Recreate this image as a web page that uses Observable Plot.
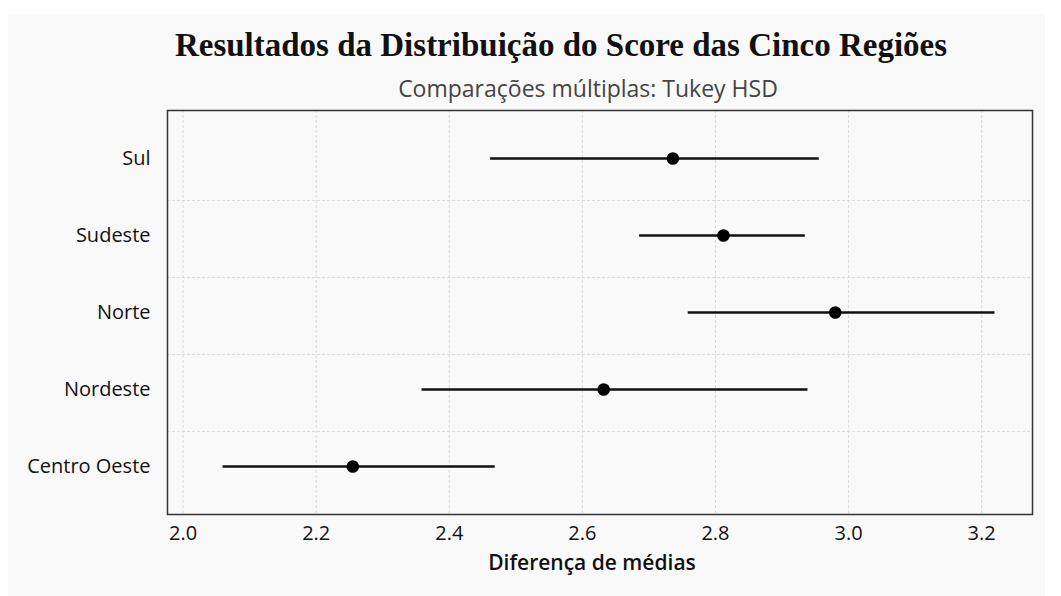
<!DOCTYPE html>
<html>
<head>
<meta charset="utf-8">
<script src="https://cdn.jsdelivr.net/npm/d3@7"></script>
<script src="https://cdn.jsdelivr.net/npm/@observablehq/plot@0.6"></script>
<style>
  html, body { margin: 0; padding: 0; background: #ffffff; }
  #wrap { position: relative; width: 1061px; height: 596px; overflow: hidden; }
  #panel { position: absolute; left: 8px; top: 14px; width: 1037px; height: 582px; background: #f9f9f9; }
  #title { position: absolute; left: 0; width: 1122px; top: 25px; text-align: center; line-height: 40px;
           font-family: "Liberation Serif", "DejaVu Serif", serif; font-weight: bold; font-size: 33px; color: #111; white-space: nowrap; }
  #subtitle { position: absolute; left: 0; width: 1176px; top: 73px; text-align: center; line-height: 30px;
              font-family: "Open Sans", "Noto Sans", sans-serif; font-size: 23px; color: #444; white-space: nowrap; }
  #chart { position: absolute; left: 0; top: 0; }
</style>
</head>
<body>
<div id="wrap">
  <div id="panel"></div>
  <div id="title">Resultados da Distribuição do Score das Cinco Regiões</div>
  <div id="subtitle">Comparações múltiplas: Tukey HSD</div>
  <div id="chart"></div>
</div>
<script>
// Data
const regions = ["Sul", "Sudeste", "Norte", "Nordeste", "Centro Oeste"];
const diffs   = [2.736, 2.812, 2.980, 2.632, 2.255];
const lowers  = [2.462, 2.686, 2.759, 2.359, 2.060];
const uppers  = [2.956, 2.935, 3.220, 2.939, 2.469];
const xTicks  = [2.0, 2.2, 2.4, 2.6, 2.8, 3.0, 3.2];

const data = regions.map((r, i) => ({region: r, diff: diffs[i], lwr: lowers[i], upr: uppers[i]}));

const W = 1061, H = 596;
const mTop = 110, mBottom = 82, mLeft = 167, mRight = 29;
const yPad = 0.59;
const step = (H - mTop - mBottom) / (regions.length - 1 + 2 * yPad);

const fontSans = "'Open Sans', 'Noto Sans', sans-serif";

const chart = Plot.plot({
  width: W,
  height: H,
  marginTop: mTop,
  marginBottom: mBottom,
  marginLeft: mLeft,
  marginRight: mRight,
  style: {background: "transparent", fontFamily: fontSans, fontSize: "20px", color: "#111"},
  x: {domain: [1.9765, 3.2764], ticks: xTicks, tickFormat: d3.format(".1f")},
  y: {type: "point", domain: regions, padding: yPad},
  marks: [
    Plot.gridX(xTicks, {stroke: "#d2d2d2", strokeOpacity: 1, strokeWidth: 0.8, strokeDasharray: "3,2"}),
    Plot.ruleY(regions.slice(0, -1), {y: d => d, dy: step / 2 + 3, stroke: "#d2d2d2", strokeOpacity: 1, strokeWidth: 0.8, strokeDasharray: "3,2"}),
    Plot.axisX({ticks: xTicks, tickSize: 0, tickPadding: 11, fontSize: 20, tickFormat: d3.format(".1f"), label: null}),
    Plot.text(["Diferença de médias"], {frameAnchor: "bottom", dy: 55, dx: -8, text: d => d,
               fontSize: 21, fontWeight: 600, lineAnchor: "bottom", fill: "#111"}),
    Plot.axisY({tickSize: 0, tickPadding: 17, fontSize: 20, label: null}),
    Plot.ruleY(data, {y: "region", x1: "lwr", x2: "upr", stroke: "#111", strokeWidth: 2.3}),
    Plot.dot(data, {x: "diff", y: "region", r: 6.3, fill: "#000", stroke: "none"}),
    Plot.frame({stroke: "#333", strokeWidth: 1.5})
  ]
});

document.getElementById("chart").appendChild(chart);
</script>
</body>
</html>
